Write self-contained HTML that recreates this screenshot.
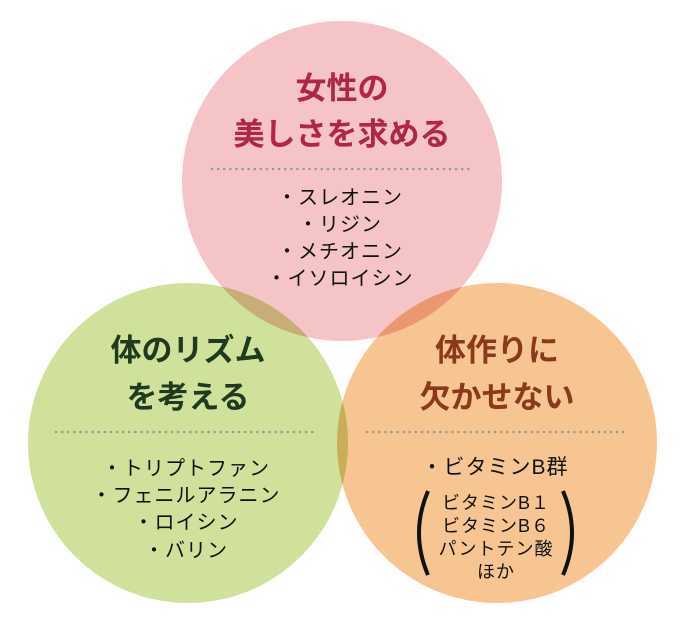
<!DOCTYPE html>
<html><head><meta charset="utf-8"><style>
body{margin:0;background:#fff;}
svg{display:block;}
circle{mix-blend-mode:multiply;}
text{font-family:"Liberation Sans","Noto Sans CJK JP",sans-serif;text-anchor:middle;}
.t{font-size:31px;font-weight:bold;}
.i{font-size:20px;fill:#111;letter-spacing:1px;}
.s{font-size:18px;fill:#111;letter-spacing:1px;}
</style></head><body>
<svg width="681" height="628" viewBox="0 0 681 628">
<g style="isolation:isolate">
<circle cx="342" cy="181" r="160" fill="#f4c4c6"/>
<circle cx="188" cy="443" r="160" fill="#d0e19b"/>
<circle cx="497" cy="443" r="160" fill="#f6c592"/>
</g>
<g stroke="#999" stroke-width="2.5" stroke-dasharray="0.1 6" stroke-linecap="round">
<line x1="212" y1="169" x2="473" y2="169"/>
<line x1="56" y1="432" x2="316" y2="432"/>
<line x1="367" y1="432" x2="628" y2="432"/>
</g>
<g class="t" fill="#b0264a">
<text x="342" y="99">女性の</text>
<text x="342" y="145">美しさを求める</text>
</g>
<g class="t" fill="#1f3a1f">
<text x="188" y="361">体のリズム</text>
<text x="188" y="408">を考える</text>
</g>
<g class="t" fill="#8a3a1c">
<text x="497" y="361">体作りに</text>
<text x="497" y="408">欠かせない</text>
</g>
<g class="i">
<text x="340" y="204">・スレオニン</text>
<text x="340" y="231">・リジン</text>
<text x="340" y="258">・メチオニン</text>
<text x="340" y="285">・イソロイシン</text>
<text x="186" y="475">・トリプトファン</text>
<text x="186" y="502">・フェニルアラニン</text>
<text x="186" y="529">・ロイシン</text>
<text x="186" y="557">・バリン</text>
<text x="495" y="474" style="font-size:21px">・ビタミンB群</text>
</g>
<g class="s">
<text x="496" y="509">ビタミンB１</text>
<text x="496" y="532">ビタミンB６</text>
<text x="496" y="555">パントテン酸</text>
<text x="496" y="578">ほか</text>
</g>
<path d="M428 491 Q410 533 428 575" fill="none" stroke="#111" stroke-width="4"/>
<path d="M563 491 Q581 533 563 575" fill="none" stroke="#111" stroke-width="4"/>
</svg>
</body></html>
